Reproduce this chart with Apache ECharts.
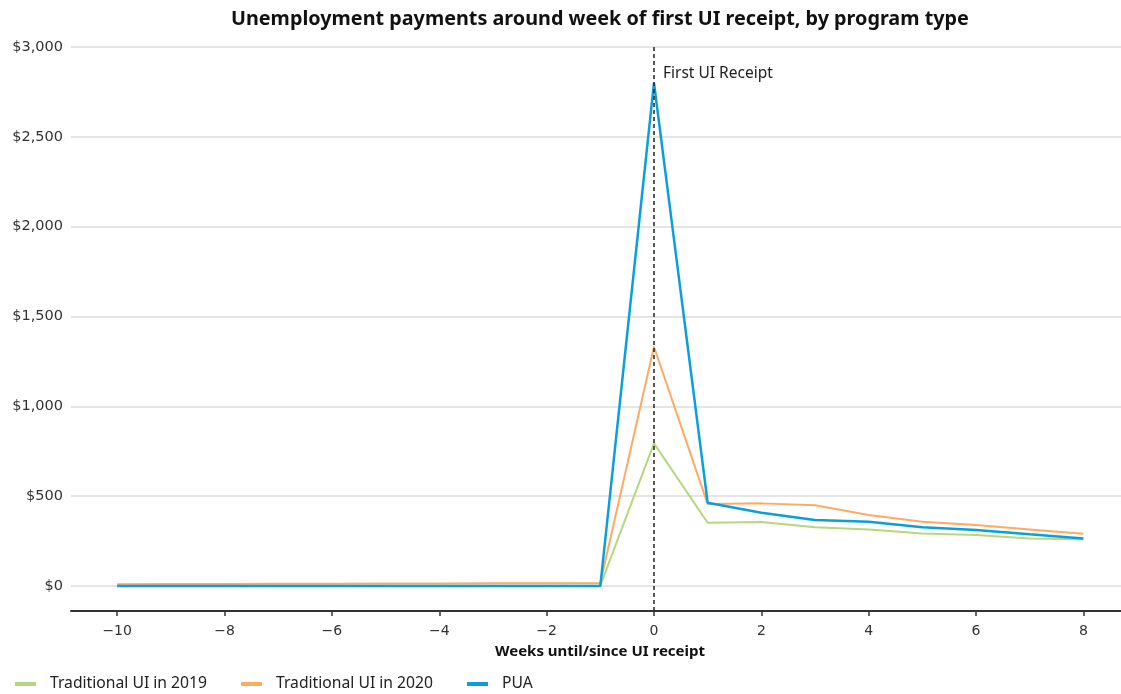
<!DOCTYPE html>
<html>
<head>
<meta charset="utf-8">
<script src="https://cdn.jsdelivr.net/npm/echarts@6/dist/echarts.min.js"></script>
<style>
  html, body { margin: 0; padding: 0; background: #fff; }
  #chart { width: 1121px; height: 694px; }
</style>
</head>
<body>
<div id="chart"></div>
<script>
// Weeks relative to the first UI payment
const weeks = [-10, -9, -8, -7, -6, -5, -4, -3, -2, -1, 0, 1, 2, 3, 4, 5, 6, 7, 8];

// Average weekly unemployment payments ($)
const traditional2019 = [2, 2, 2, 2, 2, 2, 2, 2, 2, 2, 794, 352, 356, 327, 315, 293, 284, 265, 260];
const traditional2020 = [10, 11, 11, 12, 13, 14, 14, 15, 16, 17, 1332, 456, 460, 449, 395, 358, 339, 315, 291];
const pua = [0, 0, 0, 0, 0, 0, 0, 0, 0, 0, 2800, 464, 408, 367, 358, 327, 312, 288, 265];

const xTicks = [-10, -8, -6, -4, -2, 0, 2, 4, 6, 8];
const yTicks = [0, 500, 1000, 1500, 2000, 2500, 3000];

const seriesNames = ['Traditional UI in 2019', 'Traditional UI in 2020', 'PUA'];
const seriesColors = ['#b7d77c', '#fdab62', '#0a9fdb'];
const markerWeek = 0;
const markerLabel = 'First UI Receipt';

const pairs = vals => weeks.map((w, i) => [w, vals[i]]);

const chart = echarts.init(document.getElementById('chart'), null, { renderer: 'canvas' });

const lineSeries = [traditional2019, traditional2020, pua].map((vals, i) => ({
  name: seriesNames[i],
  type: 'line',
  data: pairs(vals),
  symbol: 'none',
  z: 2 + i,
  lineStyle: { color: seriesColors[i], width: i === 2 ? 2.5 : 2 },
  itemStyle: { color: seriesColors[i] }
}));

// dashed reference line at the week of first receipt
lineSeries[2].markLine = {
  silent: true,
  symbol: 'none',
  z: 10,
  lineStyle: { color: '#222', type: [4, 3], width: 1.5 },
  label: {
    show: true,
    position: 'end',
    formatter: markerLabel,
    fontFamily: 'Noto Sans',
    fontSize: 15.5,
    color: '#222',
    align: 'left',
    offset: [9, 40]
  },
  data: [{ xAxis: markerWeek }]
};

chart.setOption({
  animation: false,
  title: {
    text: 'Unemployment payments around week of first UI receipt, by program type',
    left: 226,
    top: 4,
    textStyle: { fontFamily: 'Noto Sans', fontWeight: 'bold', fontSize: 19.8, color: '#111' }
  },
  legend: {
    left: 10,
    top: 671,
    icon: 'rect',
    itemWidth: 21,
    itemHeight: 4,
    itemGap: 34,
    textStyle: { fontFamily: 'Noto Sans', fontSize: 15.7, color: '#222', padding: [0, 0, 0, 9] },
    data: seriesNames
  },
  grid: { left: 71, right: 0, top: 47, bottom: 83 },
  xAxis: {
    type: 'value',
    min: -10.86,
    max: 8.7,
    name: 'Weeks until/since UI receipt',
    nameLocation: 'middle',
    nameGap: 33,
    nameTextStyle: { fontFamily: 'Noto Sans', fontWeight: 'bold', fontSize: 15, color: '#111', padding: [0, 0, 0, 8] },
    axisLine: { onZero: false, lineStyle: { color: '#333', width: 2 } },
    axisTick: { show: true, length: 5, lineStyle: { color: '#333', width: 1.5 }, customValues: xTicks },
    axisLabel: {
      customValues: xTicks,
      margin: 13,
      fontFamily: 'DejaVu Sans',
      fontSize: 14,
      color: '#333',
      formatter: v => (v < 0 ? '\u2212' + Math.abs(v) : String(v))
    },
    splitLine: { show: false }
  },
  yAxis: {
    type: 'value',
    min: -139,
    max: 3000,
    axisLine: { show: false },
    axisTick: { show: false, customValues: yTicks },
    axisLabel: {
      customValues: yTicks,
      margin: 8,
      fontFamily: 'DejaVu Sans',
      fontSize: 14.5,
      color: '#333',
      formatter: v => '$' + v.toLocaleString('en-US')
    },
    splitLine: { show: true, lineStyle: { color: '#dcdcdc', width: 1.5 } }
  },
  series: lineSeries
});
</script>
</body>
</html>
